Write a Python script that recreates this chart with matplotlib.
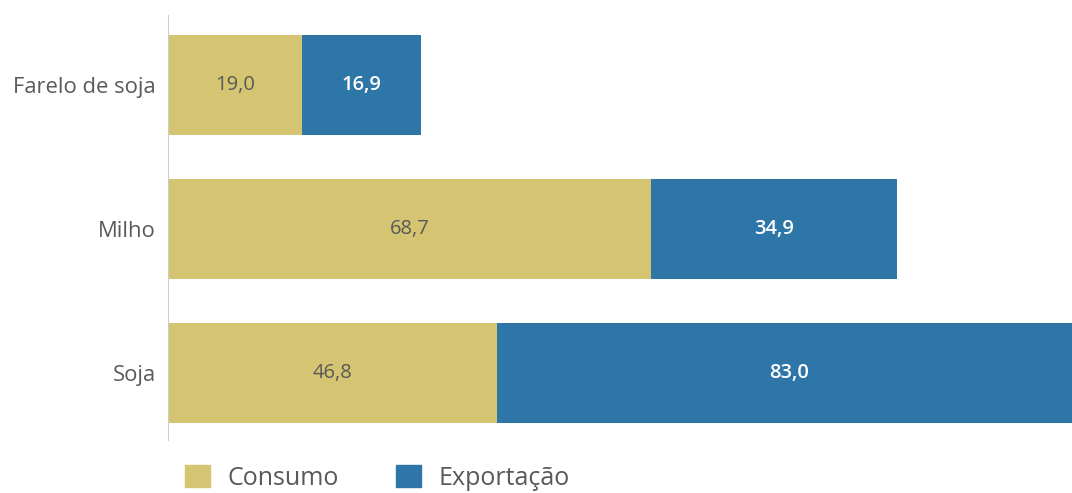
import matplotlib.pyplot as plt
from matplotlib.patches import Patch

categories = ["Soja", "Milho", "Farelo de soja"]
consumo = [46.8, 68.7, 19.0]
exportacao = [83.0, 34.9, 16.9]

cor_consumo = "#D5C471"
cor_export = "#2E75A8"
cinza = "#595959"

plt.rcParams["font.family"] = ["Open Sans", "DejaVu Sans"]

W, H = 1072, 493
fig = plt.figure(figsize=(W / 100, H / 100), dpi=100)
# axes run past the right edge so the Soja bar is cut off
ax = fig.add_axes([168 / W, 53 / H, 913 / W, 425 / H])

y = list(range(len(categories)))
ax.barh(y, consumo, height=0.694, color=cor_consumo)
ax.barh(y, exportacao, left=consumo, height=0.694, color=cor_export)

for i in y:
    c, e = consumo[i], exportacao[i]
    ax.text(c / 2, i, f"{c:.1f}".replace(".", ","), ha="center", va="center",
            fontsize=14.5, color=cinza)
    ax.text(c + e / 2, i, f"{e:.1f}".replace(".", ","), ha="center", va="center",
            fontsize=14.5, color="white", fontweight="semibold")

ax.set_xlim(0, 129.8)
ax.set_ylim(-0.465, 2.486)
ax.set_yticks(y)
ax.set_yticklabels(categories, fontsize=15.8, color=cinza)
ax.set_xticks([])
ax.tick_params(axis="y", length=0, pad=9)
for s in ["top", "right", "bottom"]:
    ax.spines[s].set_visible(False)
ax.spines["left"].set_color("#cccccc")

handles = [Patch(color=cor_consumo, label="Consumo"),
           Patch(color=cor_export, label="Exportação")]
fig.legend(handles=handles, loc="center left", bbox_to_anchor=(180 / W, 1 - 478 / H),
           ncol=2, frameon=False, fontsize=18, handlelength=1.0, handleheight=0.95,
           handletextpad=0.7, columnspacing=2.3, labelcolor=cinza,
           borderaxespad=0, borderpad=0.2)

fig.savefig("out.png", dpi=100)
